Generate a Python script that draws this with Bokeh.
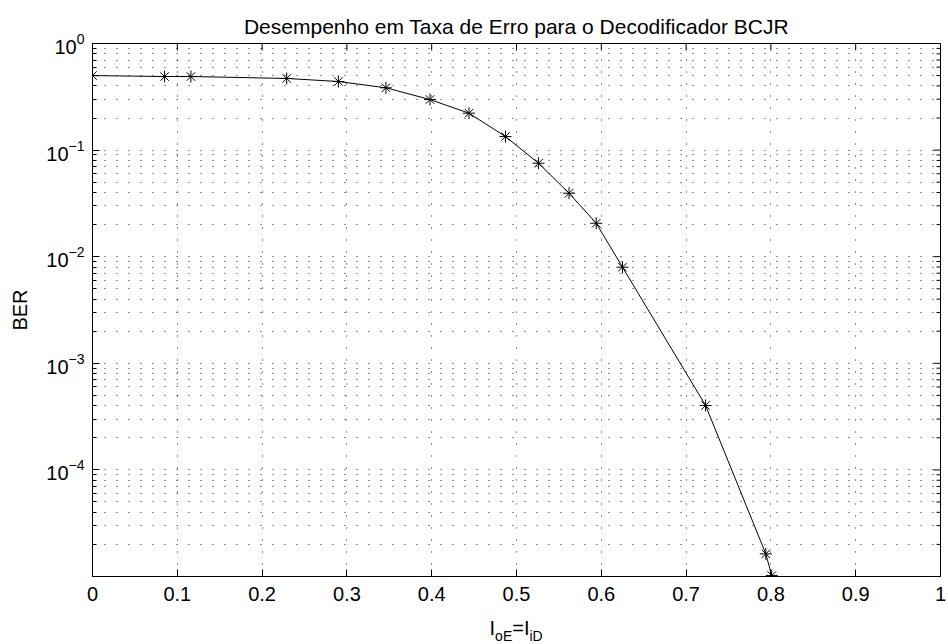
import math
from bokeh.plotting import figure
from bokeh.layouts import column
from bokeh.models import Range1d, FixedTicker, NumeralTickFormatter
from bokeh.core.properties import value
from bokeh.embed import file_html
from bokeh.resources import INLINE

# ---- data ----
i_oe = [0.0, 0.085, 0.116, 0.229, 0.290, 0.346, 0.398, 0.444, 0.487,
        0.526, 0.562, 0.594, 0.625, 0.723, 0.794, 0.801]
ber = [0.50, 0.49, 0.49, 0.47, 0.44, 0.384, 0.298, 0.222, 0.134,
       0.0753, 0.0394, 0.0206, 0.00797, 4.02e-4, 1.63e-5, 1.02e-5]

x_ticks = [0.0, 0.1, 0.2, 0.3, 0.4, 0.5, 0.6, 0.7, 0.8, 0.9, 1.0]
y_ticks = [1e-4, 1e-3, 1e-2, 1e-1, 1.0]
y_minor = [m * 10.0 ** e for e in range(-5, 0) for m in range(2, 10)]

x_lo, x_hi = 0.0, 1.0
y_lo, y_hi = 1e-5, 1.0

title_text = "Desempenho em Taxa de Erro para o Decodificador BCJR"
y_label = "BER"
x_label_main = ["I", "=", "I"]
x_label_sub = ["oE", "iD"]

FONT = "Liberation Sans"
FS = "20px"
W = 948

# ---- main plot ----
p = figure(width=W, height=614, y_axis_type="log",
           x_range=Range1d(x_lo, x_hi), y_range=Range1d(y_lo, y_hi),
           output_backend="svg", toolbar_location=None,
           min_border_left=92, min_border_right=8,
           min_border_top=43, min_border_bottom=38)

p.background_fill_color = "white"
p.border_fill_color = "white"
p.outline_line_color = "black"
p.outline_line_width = 1

p.title.text = title_text
p.title.align = "center"
p.title.text_font = FONT
p.title.text_font_size = "21px"
p.title.text_font_style = "normal"
p.title.text_color = "black"
p.title.standoff = 12

xt = FixedTicker(ticks=x_ticks, minor_ticks=[])
yt = FixedTicker(ticks=y_ticks, minor_ticks=y_minor)


def style_axis(ax):
    ax.axis_line_color = "black"
    ax.axis_line_width = 1
    ax.major_tick_in = 7
    ax.major_tick_out = 0
    ax.minor_tick_in = 4
    ax.minor_tick_out = 0
    ax.major_tick_line_color = "black"
    ax.minor_tick_line_color = "black"
    ax.major_label_text_font = FONT
    ax.major_label_text_font_size = FS
    ax.major_label_text_color = "black"
    ax.axis_label_text_font = FONT
    ax.axis_label_text_font_size = FS
    ax.axis_label_text_font_style = "normal"
    ax.axis_label_text_color = "black"


xa = p.xaxis[0]
xa.ticker = xt
xa.formatter = NumeralTickFormatter(format="0.[0]")
style_axis(xa)
xa.minor_tick_line_color = None
xa.major_label_standoff = 10

ya = p.yaxis[0]
ya.ticker = yt
style_axis(ya)
ya.major_label_standoff = 8
ya.axis_label = y_label
ya.axis_label_standoff = 12

# grids: dotted
for g in (p.xgrid, p.ygrid):
    g.grid_line_color = "black"
    g.grid_line_dash = "1 11"
    g.grid_line_alpha = 0.85
p.ygrid.minor_grid_line_color = "black"
p.ygrid.minor_grid_line_dash = "1 11"
p.ygrid.minor_grid_line_alpha = 0.85

# mirrored inward ticks on top and right edges (markers clipped by the frame)
p.scatter(x_ticks, [y_hi] * len(x_ticks), marker="dash", angle=math.pi / 2,
          size=14, line_color="black", line_width=1)
p.scatter([x_hi] * len(y_ticks), y_ticks, marker="dash", size=14,
          line_color="black", line_width=1)
p.scatter([x_hi] * len(y_minor), y_minor, marker="dash", size=8,
          line_color="black", line_width=1)

# data
p.line(i_oe, ber, line_color="black", line_width=1)
p.scatter(i_oe, ber, marker="asterisk", size=12, line_color="black",
          line_width=1)

# ---- x label strip: I_oE = I_iD with subscripts ----
q = figure(width=W, height=30, x_range=p.x_range, y_range=Range1d(0, 30),
           title=None, output_backend="svg", toolbar_location=None,
           min_border_left=92, min_border_right=8,
           min_border_top=0, min_border_bottom=0,
           x_axis_location=None, y_axis_location=None)
q.outline_line_color = None
q.background_fill_color = "white"
q.border_fill_color = "white"
q.grid.visible = False

q.text(x=[0.5] * 3, y=[17] * 3, text=x_label_main, x_offset=[-27, -4.3, 7.4],
       text_font=value(FONT), text_font_size=value("20px"),
       text_align="left", text_baseline="alphabetic", text_color="black")
q.text(x=[0.5] * 2, y=[9] * 2, text=x_label_sub, x_offset=[-21.4, 13],
       text_font=value(FONT), text_font_size=value("14px"),
       text_align="left", text_baseline="alphabetic", text_color="black")

layout = column(p, q, spacing=0)
open("out.html", "w").write(file_html(layout, INLINE))
